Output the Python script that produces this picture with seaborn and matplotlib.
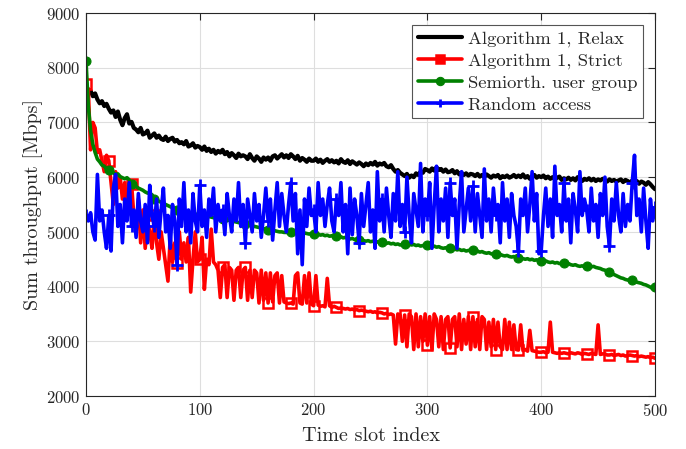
import numpy as np
import pandas as pd
import seaborn as sns
import matplotlib.pyplot as plt

# time slots (every 2nd slot)
slots = np.arange(0, 501, 2)

relax = [7650, 7600, 7580, 7480, 7530, 7420, 7350, 7390, 7300, 7340,
         7250, 7180, 7220, 7100, 7200, 7050, 6950, 7080, 7150, 6980,
         7010, 6900, 6870, 6820, 6900, 6780, 6800, 6850, 6720, 6760,
         6800, 6720, 6760, 6700, 6680, 6740, 6660, 6700, 6720, 6650,
         6680, 6620, 6640, 6600, 6660, 6560, 6580, 6620, 6540, 6570,
         6550, 6500, 6560, 6480, 6520, 6460, 6500, 6430, 6480, 6450,
         6500, 6420, 6460, 6380, 6440, 6400, 6350, 6430, 6380, 6400,
         6380, 6330, 6420, 6350, 6300, 6380, 6340, 6280, 6360, 6320,
         6360, 6300, 6380, 6400, 6340, 6380, 6420, 6360, 6400, 6350,
         6420, 6380, 6330, 6390, 6300, 6350, 6320, 6280, 6340, 6300,
         6300, 6340, 6280, 6320, 6260, 6300, 6330, 6280, 6310, 6270,
         6300, 6250, 6330, 6280, 6260, 6310, 6240, 6290, 6260, 6230,
         6270, 6240, 6200, 6250, 6220, 6260, 6230, 6280, 6210, 6250,
         6230, 6260, 6200, 6180, 6220, 6150, 6100, 6130, 6080, 6050,
         6020, 6060, 5990, 6030, 6000, 6070, 6040, 6100, 6080, 6150,
         6130, 6100, 6160, 6120, 6180, 6130, 6150, 6100, 6140, 6090,
         6100, 6130, 6070, 6110, 6050, 6080, 6040, 6070, 6030, 6060,
         6050, 6020, 6060, 6010, 6040, 6000, 6050, 6020, 5990, 6030,
         6010, 6040, 5980, 6020, 6000, 6030, 5990, 6010, 6040, 6000,
         6030, 6000, 6050, 5990, 6020, 5970, 6010, 6040, 5990, 6020,
         6000, 6030, 5980, 6010, 5970, 6000, 5960, 5990, 6010, 5950,
         5980, 5960, 5990, 5950, 5980, 5940, 6000, 5960, 5930, 5970,
         5950, 5980, 5940, 5970, 5930, 5960, 5940, 5970, 5950, 5920,
         5960, 5930, 5950, 5920, 5940, 5960, 5910, 5950, 5930, 5900,
         5940, 5910, 5930, 5880, 5920, 5900, 5860, 5910, 5870, 5820,
         5780]

strict = [7700, 7600, 6500, 7000, 6900, 6450, 6500, 6300, 6100, 6400,
          6300, 5900, 5500, 6100, 5800, 6000, 5600, 5900, 5400, 5700,
          5880, 5300, 5000, 5600, 4800, 5400, 4700, 5200, 5000, 4700,
          5300, 4800, 4500, 5000, 4700, 4400, 4100, 4900, 4450, 4800,
          4430, 5000, 4500, 4800, 4450, 4900, 3900, 4500, 5000, 4450,
          4500, 4900, 3950, 4500, 4400, 5050, 4450, 4400, 4300, 3800,
          4350, 4400, 3800, 4350, 4300, 3750, 4300, 4350, 3800, 4300,
          4350, 3750, 4300, 3800, 4300, 4250, 3700, 4300, 3750, 4250,
          3700, 4250, 3720, 4200, 4250, 3700, 4200, 3720, 3700, 3690,
          3700, 3680, 4200, 4250, 3700, 3680, 4200, 3700, 4250, 3680,
          3650, 4200, 3660, 3640, 3650, 3630, 4150, 3650, 3620, 3640,
          3620, 3600, 3610, 3600, 3590, 3600, 3580, 3590, 3570, 3580,
          3560, 3570, 3560, 3550, 3540, 3550, 3530, 3540, 3520, 3530,
          3520, 3500, 3510, 3490, 3500, 3480, 2950, 3500, 3480, 3000,
          3480, 2900, 3500, 3450, 2850, 3500, 2900, 3450, 3000, 3500,
          2930, 3450, 2850, 3500, 3400, 2900, 3450, 2850, 3400, 3450,
          2880, 3400, 3450, 2900, 3500, 2850, 3400, 2950, 3450, 2850,
          3450, 2900, 3400, 2850, 3450, 3400, 2850, 3350, 2900, 3400,
          2850, 3350, 2900, 2850, 3400, 2850, 3350, 2850, 3300, 2850,
          2840, 3300, 2830, 2850, 2820, 3200, 2830, 2820, 2810, 2800,
          2800, 2810, 2790, 2800, 3350, 2800, 2790, 2780, 2790, 2780,
          2790, 2780, 2770, 2790, 2780, 2770, 2790, 2780, 2760, 2780,
          2770, 2760, 2780, 2770, 2760, 3300, 2760, 2770, 2770, 2750,
          2750, 2760, 2740, 2750, 2760, 2740, 2750, 2730, 2740, 2750,
          2740, 2730, 2740, 2720, 2730, 2720, 2710, 2720, 2700, 2710,
          2690]

semiorth = [8120, 7300, 6850, 6600, 6450, 6330, 6280, 6220, 6200, 6150,
            6130, 6100, 6080, 6050, 6060, 6010, 5990, 5970, 5990, 5950,
            5880, 5850, 5830, 5800, 5780, 5760, 5730, 5710, 5700, 5680,
            5600, 5580, 5560, 5540, 5520, 5500, 5480, 5460, 5440, 5430,
            5400, 5380, 5370, 5360, 5350, 5340, 5330, 5320, 5310, 5300,
            5300, 5290, 5290, 5280, 5280, 5270, 5260, 5260, 5250, 5240,
            5230, 5220, 5220, 5210, 5200, 5190, 5180, 5170, 5160, 5150,
            5140, 5130, 5120, 5110, 5100, 5090, 5080, 5070, 5060, 5050,
            5040, 5030, 5020, 5020, 5010, 5000, 5000, 4990, 4990, 4980,
            5000, 4990, 4990, 4980, 4990, 4970, 4980, 4970, 4960, 4970,
            4960, 4950, 4960, 4940, 4950, 4930, 4940, 4920, 4930, 4910,
            4920, 4900, 4910, 4890, 4900, 4880, 4870, 4880, 4860, 4870,
            4850, 4860, 4840, 4830, 4840, 4820, 4830, 4810, 4820, 4800,
            4810, 4800, 4790, 4800, 4780, 4790, 4770, 4780, 4760, 4770,
            4780, 4770, 4780, 4760, 4770, 4750, 4760, 4740, 4750, 4760,
            4760, 4740, 4730, 4740, 4720, 4730, 4710, 4700, 4710, 4690,
            4700, 4680, 4690, 4670, 4680, 4660, 4670, 4650, 4660, 4670,
            4660, 4640, 4650, 4630, 4640, 4620, 4610, 4620, 4600, 4590,
            4590, 4580, 4590, 4570, 4560, 4570, 4550, 4540, 4550, 4530,
            4520, 4530, 4510, 4500, 4510, 4490, 4500, 4480, 4490, 4470,
            4470, 4460, 4470, 4450, 4440, 4450, 4430, 4440, 4420, 4430,
            4430, 4410, 4420, 4400, 4390, 4400, 4380, 4370, 4380, 4360,
            4380, 4370, 4360, 4370, 4350, 4340, 4330, 4310, 4300, 4280,
            4260, 4240, 4220, 4200, 4180, 4160, 4150, 4130, 4120, 4110,
            4120, 4100, 4080, 4070, 4060, 4040, 4030, 4010, 3990, 3960,
            4000]

random_access = [5300, 5200, 5350, 5000, 4850, 6050, 5200, 5400, 5000, 4700,
                 5300, 4650, 5800, 6050, 5100, 5500, 4800, 5600, 5200, 5900,
                 5100, 5400, 4900, 5700, 5200, 5000, 5500, 4800, 5850, 5300,
                 5100, 5600, 4900, 5400, 5800, 5000, 5300, 4700, 5500, 5200,
                 4400, 5600, 5100, 5900, 5000, 5400, 4800, 5700, 5200, 5000,
                 5850, 5100, 5400, 4900, 5600, 5300, 5800, 5000, 5500, 5200,
                 5400, 4950, 5700, 5300, 5000, 5600, 5200, 5900, 5100, 5500,
                 4800, 5600, 5300, 5000, 5700, 5200, 5500, 4900, 5300, 5800,
                 5200, 5600, 4850, 5400, 5900, 5100, 5700, 5300, 5000, 5500,
                 5900, 5200, 5700, 4600, 5400, 4400, 5600, 5100, 5800, 5300,
                 5400, 5000, 5900, 5300, 5600, 5100, 5500, 5800, 5200, 5000,
                 5600, 5300, 5900, 5000, 5500, 4600, 5800, 4950, 5600, 5300,
                 4800, 5700, 5100, 5500, 5900, 5000, 5400, 4700, 6100, 5200,
                 5600, 5000, 5800, 5300, 4900, 5700, 5200, 6100, 5100, 5500,
                 5000, 6000, 5300, 4800, 5700, 5400, 5100, 6250, 5000, 5600,
                 5300, 5900, 4700, 5500, 6200, 5000, 5600, 5200, 5800, 4900,
                 5900, 5300, 5600, 4700, 5500, 6100, 5000, 5400, 5800, 5200,
                 5830, 5000, 5700, 5300, 4900, 6150, 5200, 5600, 5000, 5800,
                 5300, 5500, 4800, 5900, 5200, 5600, 4900, 5700, 5300, 5100,
                 4650, 5600, 5300, 5800, 5000, 5500, 6100, 5200, 5700, 4600,
                 4650, 5300, 5800, 5100, 5600, 4900, 6200, 5300, 5500, 5000,
                 5900, 5200, 5600, 4800, 5700, 5400, 5000, 6100, 5300, 5600,
                 5400, 5000, 5800, 5200, 5500, 4900, 5700, 5300, 6000, 5100,
                 4750, 5600, 5200, 5900, 5300, 5000, 5700, 5100, 5500, 5200,
                 5900, 6400, 5300, 5600, 5000, 5800, 5200, 4700, 5600, 5200,
                 5450]

labels = ['Algorithm 1, Relax', 'Algorithm 1, Strict',
          'Semiorth. user group', 'Random access']

df = pd.DataFrame({'slot': slots, labels[0]: relax, labels[1]: strict,
                   labels[2]: semiorth, labels[3]: random_access})

sns.set_style('whitegrid')
plt.rcParams['font.family'] = ['cmr10', 'DejaVu Serif']
plt.rcParams['axes.formatter.use_mathtext'] = True
plt.rcParams['mathtext.fontset'] = 'cm'

fig = plt.figure(figsize=(6.86, 4.49), dpi=100)
ax = fig.add_axes([0.1254, 0.118, 0.8294, 0.853])

sns.lineplot(data=df, x='slot', y=labels[0], ax=ax, color='black', lw=3,
             label=labels[0])
sns.lineplot(data=df, x='slot', y=labels[1], ax=ax, color='red', lw=2.6,
             marker='s', markevery=10, ms=6.5, mfc='none', mew=1.8, mec='red',
             label=labels[1])
sns.lineplot(data=df, x='slot', y=labels[2], ax=ax, color='green', lw=2.6,
             marker='o', markevery=10, ms=6.5, mec='green', mfc='green',
             label=labels[2])
sns.lineplot(data=df, x='slot', y=labels[3], ax=ax, color='blue', lw=2.6,
             marker='+', markevery=10, ms=8, mew=2, mec='blue',
             label=labels[3])

ax.set_xlim(0, 500)
ax.set_ylim(2000, 9000)
ax.set_xticks(range(0, 501, 100))
ax.set_yticks(range(2000, 9001, 1000))
ax.grid(True, color='#dedede', lw=0.8)
for s in ax.spines.values():
    s.set_color('#262626')
    s.set_linewidth(0.8)
    s.set_visible(True)
ax.tick_params(direction='in', length=5, width=0.8, top=True, right=True,
               labelsize=12, colors='#262626', pad=4)
ax.set_xlabel('Time slot index', fontsize=14.5, labelpad=6)
ax.set_ylabel('Sum throughput [Mbps]', fontsize=14.5, labelpad=2)

leg = ax.legend(loc='upper right', fontsize=13.4, frameon=True, fancybox=False,
                edgecolor='#555555', framealpha=1, handlelength=2.4,
                borderaxespad=0.65, labelspacing=0.3, handletextpad=0.3,
                borderpad=0.3)
leg.get_frame().set_linewidth(0.8)
for h in leg.legend_handles:
    h.set_markersize(6)
    h.set_markerfacecolor(h.get_color())

fig.savefig('out.png', dpi=100)
